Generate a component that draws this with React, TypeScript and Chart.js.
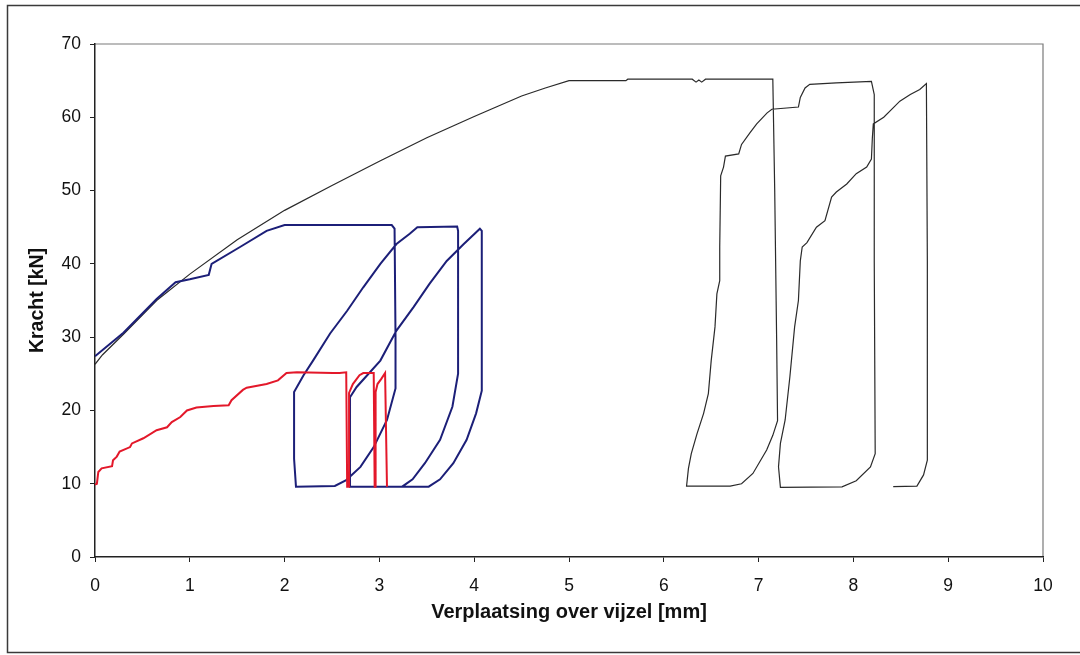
import React, { useEffect, useRef } from "react";
import { Chart, registerables } from "chart.js";

Chart.register(...registerables);

// Axis ticks
const xTicks = [0, 1, 2, 3, 4, 5, 6, 7, 8, 9, 10];
const yTicks = [0, 10, 20, 30, 40, 50, 60, 70];

// Black test: loading to 65 kN, then three unload/reload cycles
const blackX = [0, 0.08, 0.3, 0.65, 1.0, 1.5, 2.0, 2.5, 3.0, 3.5, 4.0, 4.5, 4.75, 5.0, 5.6, 5.62, 6.3, 6.34, 6.37, 6.4, 6.44, 6.47, 7.15, 7.17, 7.19, 7.2, 7.15, 7.085, 6.94, 6.82, 6.7, 6.24, 6.26, 6.29, 6.35, 6.42, 6.47, 6.5, 6.54, 6.56, 6.59, 6.59, 6.6, 6.63, 6.65, 6.79, 6.82, 6.91, 6.98, 7.09, 7.14, 7.42, 7.44, 7.49, 7.54, 7.82, 8.19, 8.22, 8.22, 8.23, 8.18, 8.03, 7.88, 7.23, 7.21, 7.23, 7.28, 7.33, 7.38, 7.42, 7.44, 7.46, 7.51, 7.61, 7.7, 7.77, 7.82, 7.93, 8.03, 8.14, 8.19, 8.2, 8.21, 8.32, 8.39, 8.49, 8.6, 8.7, 8.77, 8.78, 8.78, 8.74, 8.67, 8.42];
const blackY = [26.3, 27.6, 30.4, 35.0, 38.6, 43.3, 47.3, 50.7, 54.0, 57.2, 60.1, 62.9, 64.0, 65.0, 65.0, 65.2, 65.2, 64.8, 65.1, 64.8, 65.2, 65.2, 65.2, 50.0, 30.0, 18.6, 16.6, 14.6, 11.4, 10.0, 9.67, 9.67, 12.1, 14.1, 16.8, 19.6, 22.3, 26.8, 31.4, 35.9, 37.7, 42.3, 52.0, 53.2, 54.7, 55.0, 56.3, 57.9, 59.1, 60.6, 61.1, 61.4, 62.7, 64.0, 64.5, 64.7, 64.9, 63.1, 40.4, 14.1, 12.3, 10.4, 9.58, 9.5, 12.3, 15.5, 18.7, 24.6, 31.4, 35.0, 40.4, 42.3, 42.9, 45.0, 45.9, 49.1, 49.8, 50.9, 52.3, 53.2, 54.3, 57.2, 59.1, 60.0, 60.9, 62.2, 63.1, 63.8, 64.6, 40.4, 13.2, 11.2, 9.67, 9.6];

// Blue test: loading to 45 kN, then cycles between 45 and ~9.6 kN
const blueX = [0, 0.3, 0.65, 0.85, 1.0, 1.2, 1.23, 1.53, 1.81, 2.0, 3.13, 3.16, 3.17, 3.17, 3.08, 2.94, 2.8, 2.65, 2.53, 2.12, 2.1, 2.1, 2.2, 2.3, 2.48, 2.66, 2.83, 3.01, 3.18, 3.32, 3.4, 3.82, 3.83, 3.83, 3.77, 3.64, 3.48, 3.35, 3.24, 2.7, 2.69, 2.69, 2.76, 3.01, 3.18, 3.36, 3.53, 3.71, 3.89, 4.06, 4.08, 4.08, 4.02, 3.92, 3.78, 3.64, 3.52, 3.05];
const blueY = [27.4, 30.6, 35.2, 37.5, 37.9, 38.5, 40.0, 42.3, 44.5, 45.3, 45.3, 44.8, 30.0, 23.0, 18.7, 15.0, 12.3, 10.5, 9.7, 9.6, 13.4, 22.5, 24.8, 26.8, 30.5, 33.6, 36.8, 40.0, 42.7, 44.1, 45.0, 45.1, 44.5, 25.0, 20.5, 16.0, 12.8, 10.6, 9.6, 9.6, 12.0, 21.8, 23.2, 26.8, 30.9, 34.1, 37.3, 40.4, 42.7, 44.8, 44.5, 22.7, 19.6, 16.0, 12.8, 10.6, 9.6, 9.6];

// Red test: loading to 25 kN, then short cycles
const redX = [0, 0.02, 0.035, 0.07, 0.18, 0.19, 0.23, 0.26, 0.37, 0.39, 0.51, 0.65, 0.76, 0.81, 0.9, 0.97, 1.07, 1.25, 1.41, 1.44, 1.56, 1.6, 1.81, 1.93, 2.02, 2.13, 2.51, 2.58, 2.65, 2.66, 2.68, 2.68, 2.72, 2.79, 2.83, 2.94, 2.95, 2.96, 2.96, 2.98, 3.02, 3.06, 3.08];
const redY = [9.9, 10.0, 11.6, 12.1, 12.4, 13.2, 13.7, 14.4, 15.0, 15.5, 16.2, 17.3, 17.7, 18.4, 19.1, 20.0, 20.4, 20.6, 20.7, 21.4, 22.8, 23.1, 23.6, 24.1, 25.1, 25.2, 25.1, 25.1, 25.2, 9.6, 9.6, 22.4, 23.6, 24.8, 25.1, 25.1, 9.6, 9.6, 22.5, 23.6, 24.3, 25.1, 9.6];

const FONT = "'Liberation Sans', Arial, sans-serif";

const toPoints = (xs: number[], ys: number[]) => xs.map((x, i) => ({ x, y: ys[i] }));

// Page frame plus the light top/right edge of the plot area
const framePlugin = {
  id: "pageFrame",
  beforeDraw(chart: any) {
    const { ctx, chartArea: a } = chart;
    ctx.save();
    ctx.fillStyle = "#ffffff";
    ctx.fillRect(0, 0, chart.width, chart.height);
    ctx.strokeStyle = "#3a3a3a";
    ctx.lineWidth = 1.5;
    ctx.strokeRect(7.5, 5.5, 1100, 647);
    ctx.strokeStyle = "#7a7a7a";
    ctx.lineWidth = 1.2;
    ctx.beginPath();
    ctx.moveTo(a.left, a.top);
    ctx.lineTo(a.right, a.top);
    ctx.lineTo(a.right, a.bottom);
    ctx.stroke();
    ctx.restore();
  },
};

export default function App() {
  const canvasRef = useRef<HTMLCanvasElement>(null);

  useEffect(() => {
    if (!canvasRef.current) return;
    const chart = new Chart(canvasRef.current, {
      type: "scatter",
      data: {
        datasets: [
          {
            label: "rood",
            data: toPoints(redX, redY),
            showLine: true,
            borderColor: "#e3182a",
            borderWidth: 2,
            pointRadius: 0,
            tension: 0,
          },
          {
            label: "blauw",
            data: toPoints(blueX, blueY),
            showLine: true,
            borderColor: "#1c1f78",
            borderWidth: 2,
            pointRadius: 0,
            tension: 0,
          },
          {
            label: "zwart",
            data: toPoints(blackX, blackY),
            showLine: true,
            borderColor: "#2a2a2a",
            borderWidth: 1.2,
            pointRadius: 0,
            tension: 0,
          },
        ],
      },
      options: {
        responsive: false,
        animation: false,
        layout: { padding: { left: 20, right: 37, top: 44, bottom: 20 } },
        plugins: { legend: { display: false }, tooltip: { enabled: false } },
        scales: {
          x: {
            type: "linear",
            min: 0,
            max: 10,
            afterFit: (s: any) => {
              s.height = 78;
            },
            afterBuildTicks: (s: any) => {
              s.ticks = xTicks.map((v) => ({ value: v }));
            },
            ticks: {
              color: "#111",
              font: { family: FONT, size: 17.5 },
              padding: 14,
            },
            grid: { drawOnChartArea: false, drawTicks: true, tickLength: 5, color: "#222" },
            border: { display: true, color: "#222", width: 1.5 },
            title: {
              display: true,
              text: "Verplaatsing over vijzel [mm]",
              color: "#111",
              font: { family: FONT, size: 20, weight: "bold" },
              padding: { top: 0, bottom: 11 },
            },
          },
          y: {
            type: "linear",
            min: 0,
            max: 70,
            afterFit: (s: any) => {
              s.width = 75;
            },
            afterBuildTicks: (s: any) => {
              s.ticks = yTicks.map((v) => ({ value: v }));
            },
            ticks: {
              color: "#111",
              font: { family: FONT, size: 17.5 },
              padding: 9,
            },
            grid: { drawOnChartArea: false, drawTicks: true, tickLength: 5, color: "#222" },
            border: { display: true, color: "#222", width: 1.5 },
            title: {
              display: true,
              text: "Kracht [kN]",
              color: "#111",
              font: { family: FONT, size: 19.5, weight: "bold" },
              padding: { top: 6, bottom: 0 },
            },
          },
        },
      },
      plugins: [framePlugin],
    } as any);
    return () => chart.destroy();
  }, []);

  return (
    <div style={{ position: "fixed", left: 0, top: 0, width: 1080, height: 655, background: "#fff" }}>
      <canvas ref={canvasRef} width={1080} height={655} />
    </div>
  );
}
